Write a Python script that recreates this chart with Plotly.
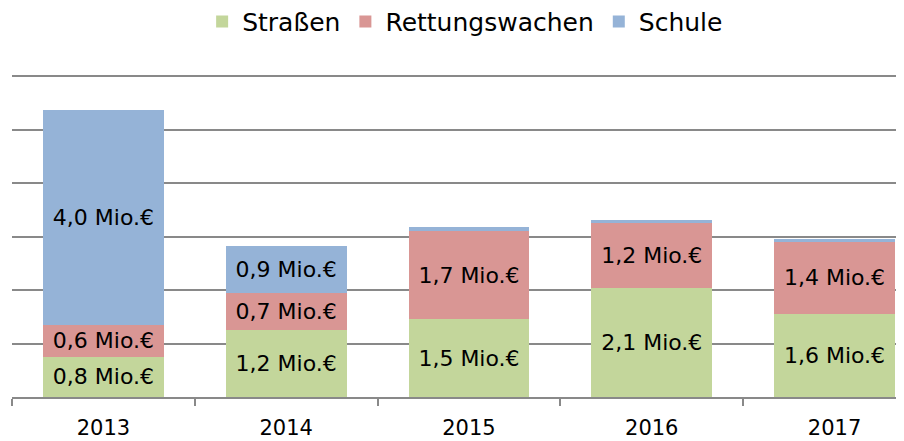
import plotly.graph_objects as go

years = ["2013", "2014", "2015", "2016", "2017"]

strassen = [0.75, 1.25, 1.45, 2.03, 1.56]
rettungswachen = [0.60, 0.69, 1.66, 1.23, 1.34]
schule = [4.01, 0.89, 0.07, 0.05, 0.06]

strassen_txt = ["0,8 Mio.€", "1,2 Mio.€", "1,5 Mio.€", "2,1 Mio.€", "1,6 Mio.€"]
rettung_txt = ["0,6 Mio.€", "0,7 Mio.€", "1,7 Mio.€", "1,2 Mio.€", "1,4 Mio.€"]
schule_txt = ["4,0 Mio.€", "0,9 Mio.€", "", "", ""]

_FONT = "DejaVu Sans, Verdana, sans-serif"

fig = go.Figure()
for name, vals, txt, color in [
    ("Straßen", strassen, strassen_txt, "#C3D69B"),
    ("Rettungswachen", rettungswachen, rettung_txt, "#D99694"),
    ("Schule", schule, schule_txt, "#95B3D7"),
]:
    fig.add_trace(go.Bar(
        x=years, y=vals, name=name, text=txt,
        textposition="inside", insidetextanchor="middle",
        textfont=dict(color="black", size=22, family=_FONT),
        marker=dict(color=color, line=dict(width=0)),
    ))

# page body has an 8px margin, so the figure is shrunk/offset to land on the same pixels
fig.update_layout(
    barmode="stack",
    bargap=0.34,
    width=896, height=433,
    margin=dict(l=4, r=0, t=67, b=44, autoexpand=False),
    plot_bgcolor="white", paper_bgcolor="white",
    font=dict(family=_FONT, size=20, color="black"),
    uniformtext=dict(minsize=20, mode="show"),
    showlegend=True,
    legend=dict(orientation="h", x=0.508, xanchor="center", yref="container", y=0.968,
                yanchor="middle", font=dict(size=25), traceorder="normal"),
    xaxis=dict(range=[-0.5, 4.38], tickson="boundaries", ticks="outside", ticklen=7,
               tickcolor="#898989", tickwidth=2, showline=True, linecolor="#898989", linewidth=2,
               showgrid=False, tickfont=dict(size=21), ticklabelstandoff=11),
    yaxis=dict(range=[0, 6.02], dtick=1, showticklabels=False, showgrid=True,
               gridcolor="#898989", gridwidth=2, zeroline=False, showline=False),
)

fig.write_html("out.html")
